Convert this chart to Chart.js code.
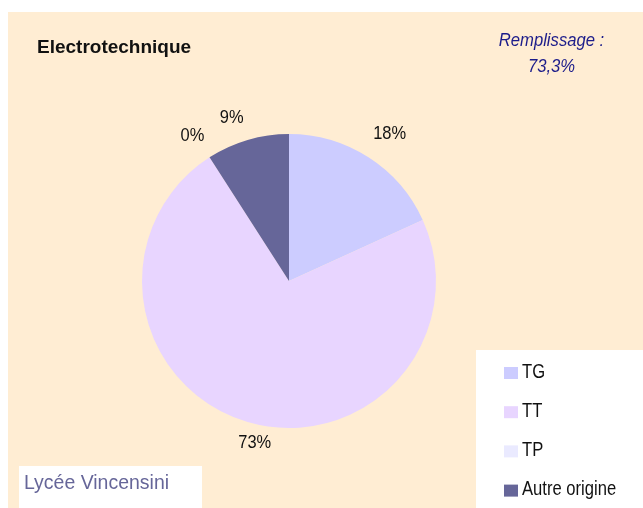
<!DOCTYPE html>
<html lang="fr">
<head>
<meta charset="utf-8">
<title>Electrotechnique</title>
<script src="https://cdn.jsdelivr.net/npm/chart.js@4"></script>
<style>
  html, body { margin: 0; padding: 0; background: #ffffff; }
  #wrap { width: 643px; height: 508px; }
</style>
</head>
<body>
<div id="wrap"><canvas id="pie" width="643" height="508"></canvas></div>
<script>
// données (effectifs -> pourcentages)
const categories = ['TG', 'TT', 'TP', 'Autre origine'];
const effectifs = [2, 8, 0, 1];
const sliceColors = ['#CCCCFF', '#E8D5FF', '#EAEAFF', '#666699'];
const chartTitle = 'Electrotechnique';
const fillLines = ['Remplissage :', '73,3%'];
const schoolName = 'Lycée Vincensini';

const FONT = "'Liberation Sans', Arial, sans-serif";
// petits décalages des étiquettes (placement "ajusté" façon Excel)
const labelNudge = [[6, 0], [15, -6], [-2, 2], [-8, 5]];

function drawText(ctx, text, x, y, opts) {
    ctx.save();
    ctx.font = opts.font;
    ctx.fillStyle = opts.color;
    ctx.textAlign = opts.align || 'left';
    ctx.textBaseline = opts.baseline || 'alphabetic';
    ctx.translate(x, y);
    ctx.scale(opts.sx || 1, 1);
    ctx.fillText(text, 0, 0);
    ctx.restore();
}

const decor = {
    id: 'decor',
    beforeDraw(chart) {
        const ctx = chart.ctx;
        ctx.save();
        ctx.fillStyle = '#ffffff';
        ctx.fillRect(0, 0, chart.width, chart.height);
        ctx.fillStyle = '#FFEDD3';
        ctx.fillRect(8, 12, chart.width - 8, chart.height - 12);
        ctx.fillStyle = '#ffffff';
        ctx.fillRect(476, 350, chart.width - 476, chart.height - 350);
        ctx.fillRect(19, 466, 183, chart.height - 466);
        ctx.restore();
    },
    afterDraw(chart) {
        const ctx = chart.ctx;
        const values = chart.data.datasets[0].data;
        const total = values.reduce((a, b) => a + b, 0);

        // étiquettes de pourcentage autour du camembert
        chart.getDatasetMeta(0).data.forEach((arc, i) => {
            const mid = (arc.startAngle + arc.endAngle) / 2;
            const d = arc.outerRadius + 28;
            const x = arc.x + Math.cos(mid) * d + labelNudge[i][0];
            const y = arc.y + Math.sin(mid) * d + labelNudge[i][1];
            const pct = Math.round(values[i] / total * 100) + '%';
            drawText(ctx, pct, x, y, {font: '18.5px ' + FONT, color: '#111111', align: 'center', baseline: 'middle', sx: 0.89});
        });

        // titre
        drawText(ctx, chartTitle, 37, 53, {font: 'bold 19px ' + FONT, color: '#111111'});

        // remplissage
        fillLines.forEach((line, i) => {
            drawText(ctx, line, 551.5, 46 + i * 26, {font: 'italic 18.5px ' + FONT, color: '#1C1C8A', align: 'center', sx: 0.9});
        });

        // légende
        categories.forEach((cat, i) => {
            const base = 377.5 + i * 39.2;
            ctx.fillStyle = sliceColors[i];
            ctx.fillRect(504, base - 10.5, 14, 12);
            drawText(ctx, cat, 522, base, {font: '20px ' + FONT, color: '#111111', sx: 0.83});
        });

        // établissement
        drawText(ctx, schoolName, 24, 489, {font: '20.5px ' + FONT, color: '#666699', sx: 0.95});
    }
};

new Chart(document.getElementById('pie'), {
    type: 'pie',
    data: {
        labels: categories,
        datasets: [{
            data: effectifs,
            backgroundColor: sliceColors,
            borderWidth: 0
        }]
    },
    options: {
        responsive: false,
        devicePixelRatio: 1,
        animation: false,
        layout: {
            padding: {left: 142, top: 134, right: 207, bottom: 80}
        },
        plugins: {
            legend: {display: false},
            title: {display: false},
            tooltip: {enabled: false}
        }
    },
    plugins: [decor]
});
</script>
</body>
</html>
